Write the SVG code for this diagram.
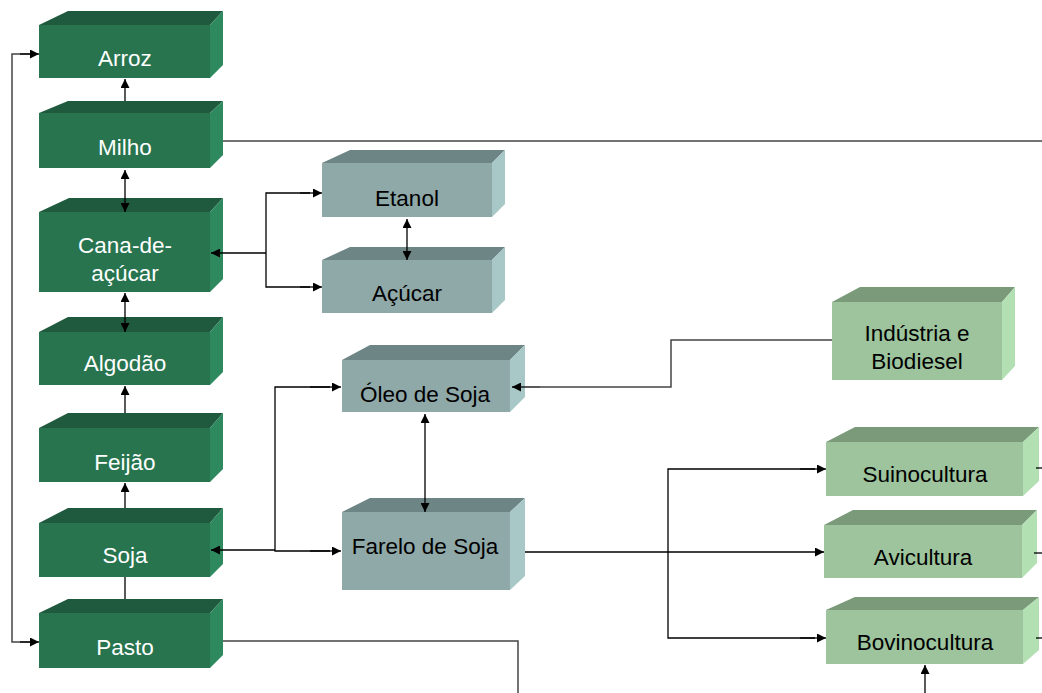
<svg xmlns="http://www.w3.org/2000/svg" width="1042" height="693" viewBox="0 0 1042 693">
<defs>
<marker id="ah" viewBox="0 0 10 10" refX="10" refY="5" markerWidth="11" markerHeight="9" markerUnits="userSpaceOnUse" orient="auto-start-reverse">
<path d="M0,0 L10,5 L0,10 z" fill="#000"/>
</marker>
<style>
.gf{fill:#27744f}.gt{fill:#1f5a3e}.gr{fill:#2e8a5e}
.sf{fill:#8fa8a8}.st{fill:#6e8585}.sr{fill:#a8c8c8}
.lf{fill:#9dc49d}.lt{fill:#7a9a7a}.lr{fill:#b3e0b3}
.wt{font-family:"Liberation Sans",Arial,sans-serif;font-size:22.5px;fill:#fff;text-anchor:middle;dominant-baseline:central}
.bt{font-family:"Liberation Sans",Arial,sans-serif;font-size:22.5px;fill:#000;text-anchor:middle;dominant-baseline:central}
.c{fill:none;stroke:#000;stroke-width:1.3}
.g{fill:none;stroke:#444;stroke-width:1.5}
</style>
</defs>
<g id="arroz">
<polygon class="gt" points="39,25 68,11 223,11 210,25"/>
<polygon class="gr" points="210,25 223,11 223,65 210,78"/>
<rect class="gf" x="39" y="25" width="171" height="53"/>
<text class="wt" x="125" y="58">Arroz</text>
</g>
<g id="milho">
<polygon class="gt" points="39,113 68,101 223,101 210,113"/>
<polygon class="gr" points="210,113 223,101 223,155 210,168"/>
<rect class="gf" x="39" y="113" width="171" height="55"/>
<text class="wt" x="125" y="147">Milho</text>
</g>
<g id="cana">
<polygon class="gt" points="39,212 69,198 223,198 210,212"/>
<polygon class="gr" points="210,212 223,198 223,279 210,292"/>
<rect class="gf" x="39" y="212" width="171" height="80"/>
<text class="wt" x="125" y="245">Cana-de-</text>
<text class="wt" x="125" y="273">açúcar</text>
</g>
<g id="algodao">
<polygon class="gt" points="39,332 68,317 223,317 210,332"/>
<polygon class="gr" points="210,332 223,317 223,372 210,385"/>
<rect class="gf" x="39" y="332" width="171" height="53"/>
<text class="wt" x="125" y="363">Algodão</text>
</g>
<g id="feijao">
<polygon class="gt" points="39,428 68,413 223,413 210,428"/>
<polygon class="gr" points="210,428 223,413 223,469 210,482"/>
<rect class="gf" x="39" y="428" width="171" height="54"/>
<text class="wt" x="125" y="462">Feijão</text>
</g>
<g id="soja">
<polygon class="gt" points="39,523 68,508 223,508 210,523"/>
<polygon class="gr" points="210,523 223,508 223,564 210,577"/>
<rect class="gf" x="39" y="523" width="171" height="54"/>
<text class="wt" x="125" y="555">Soja</text>
</g>
<g id="pasto">
<polygon class="gt" points="39,613 68,599 223,599 210,613"/>
<polygon class="gr" points="210,613 223,599 223,655 210,668"/>
<rect class="gf" x="39" y="613" width="171" height="55"/>
<text class="wt" x="125" y="647">Pasto</text>
</g>
<g id="etanol">
<polygon class="st" points="322,163 350,150 505,150 492,163"/>
<polygon class="sr" points="492,163 505,150 505,204 492,217"/>
<rect class="sf" x="322" y="163" width="170" height="54"/>
<text class="bt" x="407" y="198">Etanol</text>
</g>
<g id="acucar">
<polygon class="st" points="322,260 350,247 505,247 492,260"/>
<polygon class="sr" points="492,260 505,247 505,300 492,313"/>
<rect class="sf" x="322" y="260" width="170" height="53"/>
<text class="bt" x="407" y="293">Açúcar</text>
</g>
<g id="oleo">
<polygon class="st" points="342,360 370,345 525,345 510,360"/>
<polygon class="sr" points="510,360 525,345 525,397 510,412"/>
<rect class="sf" x="342" y="360" width="168" height="52"/>
<text class="bt" x="425" y="394">Óleo de Soja</text>
</g>
<g id="farelo">
<polygon class="st" points="342,512 370,498 525,498 510,512"/>
<polygon class="sr" points="510,512 525,498 525,576 510,590"/>
<rect class="sf" x="342" y="512" width="168" height="78"/>
<text class="bt" x="425" y="546">Farelo de Soja</text>
</g>
<g id="industria">
<polygon class="lt" points="832,302 860,287 1015,287 1002,302"/>
<polygon class="lr" points="1002,302 1015,287 1015,366 1002,380"/>
<rect class="lf" x="832" y="302" width="170" height="78"/>
<text class="bt" x="917" y="333">Indústria e</text>
<text class="bt" x="917" y="361">Biodiesel</text>
</g>
<g id="suinocultura">
<polygon class="lt" points="826,442 855,427 1039,427 1023,442"/>
<polygon class="lr" points="1023,442 1039,427 1039,481 1023,496"/>
<rect class="lf" x="826" y="442" width="197" height="54"/>
<text class="bt" x="925" y="474">Suinocultura</text>
</g>
<g id="avicultura">
<polygon class="lt" points="824,525 853,510 1037,510 1022,525"/>
<polygon class="lr" points="1022,525 1037,510 1037,563 1022,578"/>
<rect class="lf" x="824" y="525" width="198" height="53"/>
<text class="bt" x="923" y="557">Avicultura</text>
</g>
<g id="bovinocultura">
<polygon class="lt" points="826,610 855,597 1039,597 1023,610"/>
<polygon class="lr" points="1023,610 1039,597 1039,650 1023,664"/>
<rect class="lf" x="826" y="610" width="197" height="54"/>
<text class="bt" x="925" y="642">Bovinocultura</text>
</g>
<g id="connectors">
<polyline class="g" points="30,54 12,54 12,642 30,642" />
<line class="c" x1="20" y1="54" x2="39" y2="54" marker-end="url(#ah)"/>
<line class="c" x1="20" y1="642" x2="39" y2="642" marker-end="url(#ah)"/>
<line class="c" x1="125" y1="101" x2="125" y2="79" marker-end="url(#ah)"/>
<line class="c" x1="125" y1="170" x2="125" y2="212" marker-start="url(#ah)" marker-end="url(#ah)"/>
<line class="g" x1="223" y1="141" x2="1042" y2="141"/>
<line class="c" x1="125" y1="293" x2="125" y2="332" marker-start="url(#ah)" marker-end="url(#ah)"/>
<line class="c" x1="125" y1="413" x2="125" y2="386" marker-end="url(#ah)"/>
<line class="c" x1="125" y1="508" x2="125" y2="483" marker-end="url(#ah)"/>
<line class="c" x1="125" y1="577" x2="125" y2="599"/>
<polyline class="g" points="223,641 518,641 518,693"/>
<line class="c" x1="266" y1="253" x2="211" y2="253" marker-end="url(#ah)"/>
<polyline class="c" points="310,193 266,193 266,287 310,287"/>
<line class="c" x1="300" y1="193" x2="322" y2="193" marker-end="url(#ah)"/>
<line class="c" x1="300" y1="287" x2="322" y2="287" marker-end="url(#ah)"/>
<line class="c" x1="407" y1="219" x2="407" y2="260" marker-start="url(#ah)" marker-end="url(#ah)"/>
<line class="c" x1="275" y1="550" x2="211" y2="550" stroke-width="2.5" marker-end="url(#ah)"/>
<polyline class="c" points="330,387 275,387 275,551 330,551"/>
<line class="c" x1="310" y1="387" x2="341" y2="387" marker-end="url(#ah)"/>
<line class="c" x1="310" y1="551" x2="341" y2="551" marker-end="url(#ah)"/>
<line class="c" x1="425" y1="414" x2="425" y2="512" marker-start="url(#ah)" marker-end="url(#ah)"/>
<polyline class="g" points="832,340 671,340 671,387 540,387"/>
<line class="c" x1="540" y1="387" x2="512" y2="387" marker-end="url(#ah)"/>
<line class="c" x1="525" y1="552" x2="668" y2="552"/>
<polyline class="c" points="815,469 668,469 668,638 815,638"/>
<line class="c" x1="668" y1="552" x2="824" y2="552" marker-end="url(#ah)"/>
<line class="c" x1="800" y1="469" x2="826" y2="469" marker-end="url(#ah)"/>
<line class="c" x1="800" y1="638" x2="826" y2="638" marker-end="url(#ah)"/>
<line class="c" x1="925" y1="693" x2="925" y2="665" marker-end="url(#ah)"/>
<line class="c" x1="1036" y1="468" x2="1042" y2="468"/>
<line class="c" x1="1034" y1="553" x2="1042" y2="553"/>
<line class="c" x1="1036" y1="638" x2="1042" y2="638"/>
</g>
</svg>
